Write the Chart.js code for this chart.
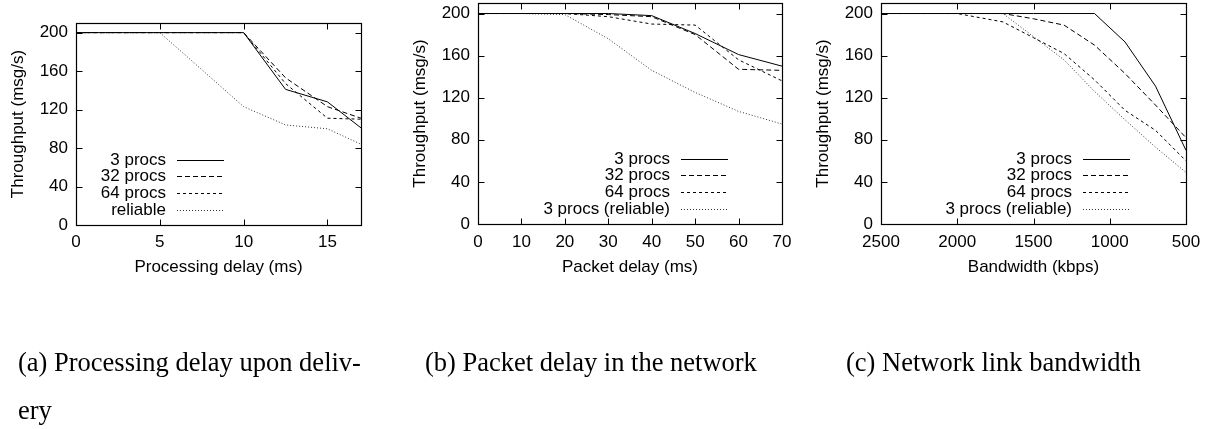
<!DOCTYPE html>
<html><head><meta charset="utf-8">
<script src="https://cdn.jsdelivr.net/npm/chart.js@4.4.1/dist/chart.umd.min.js"></script>
<style>
html,body{margin:0;padding:0;background:#fff;}
body{width:1209px;height:429px;position:relative;overflow:hidden;}
canvas{position:absolute;top:0;}
.cap{position:absolute;font-family:"Liberation Serif","Times New Roman",serif;font-size:26.5px;line-height:48px;color:#000;white-space:nowrap;}
</style></head><body>
<canvas id="ca" width="400" height="429" style="left:0px"></canvas>
<canvas id="cb" width="400" height="429" style="left:400px"></canvas>
<canvas id="cc" width="409" height="429" style="left:800px"></canvas>
<div class="cap" style="left:18px;top:338px">(a) Processing delay upon deliv-<br>ery</div>
<div class="cap" style="left:425px;top:338px">(b) Packet delay in the network</div>
<div class="cap" style="left:846px;top:338px">(c) Network link bandwidth</div>
<script>
// ---- data ----
const yTicks = [0, 40, 80, 120, 160, 200];
const yTitle = 'Throughput (msg/s)';

const aX = [0, 5, 10, 12.5, 15, 17];
const a3 = [200, 200, 200, 141, 128, 101];
const a32 = [200, 200, 200, 153, 123, 111];
const a64 = [200, 200, 200, 147, 111, 110];
const aRel = [200, 200, 123, 104, 100, 84];
const aTicks = [0, 5, 10, 15];
const aLabels = ['3 procs', '32 procs', '64 procs', 'reliable'];

const bX = [0, 10, 20, 30, 40, 50, 60, 70];
const b3 = [200, 200, 200, 200, 198, 181, 161, 150];
const b32 = [200, 200, 200, 199, 197, 180, 147, 146];
const b64 = [200, 200, 200, 197, 190, 189, 156, 136];
const bRel = [200, 200, 199, 176, 146, 125, 107, 95];
const bTicks = [0, 10, 20, 30, 40, 50, 60, 70];
const bLabels = ['3 procs', '32 procs', '64 procs', '3 procs (reliable)'];

const cX = [2500, 2000, 1700, 1500, 1300, 1100, 900, 700, 500];
const c3 = [200, 200, 200, 200, 200, 200, 173, 131, 70];
const c32 = [200, 200, 200, 195, 189, 170, 143, 113, 82];
const c64 = [200, 200, 192, 177, 162, 137, 108, 89, 60];
const cRel = [200, 200, 200, 178, 156, 126, 99, 73, 49];
const cTicks = [2500, 2000, 1500, 1000, 500];
const cLabels = ['3 procs', '32 procs', '64 procs', '3 procs (reliable)'];

// ---- styles ----
const FONT = {family: '"Liberation Sans", Arial, Helvetica, sans-serif', size: 17};
const lineStyles = [
  {borderColor: '#000', borderDash: []},
  {borderColor: '#000', borderDash: [5, 3]},
  {borderColor: '#000', borderDash: [3, 3]},
  {borderColor: '#333', borderDash: [1, 2]}
];

const gpPlugin = {
  id: 'gp',
  afterDatasetsDraw(chart, args, opts) {
    const ctx = chart.ctx, a = chart.chartArea;
    const L = Math.round(a.left) + 0.5, R = Math.round(a.right) + 0.5;
    const T = Math.round(a.top) + 0.5, B = Math.round(a.bottom) + 0.5;
    const xs = chart.scales.x, ys = chart.scales.y, tl = 6;
    ctx.save();
    ctx.strokeStyle = '#000'; ctx.lineWidth = 1; ctx.setLineDash([]);
    ctx.beginPath();
    xs.ticks.forEach(t => {
      const p = Math.round(xs.getPixelForValue(t.value)) + 0.5;
      ctx.moveTo(p, B); ctx.lineTo(p, B - tl);
      ctx.moveTo(p, T); ctx.lineTo(p, T + tl);
    });
    ys.ticks.forEach(t => {
      const p = Math.round(ys.getPixelForValue(t.value)) + 0.5;
      ctx.moveTo(L, p); ctx.lineTo(L + tl, p);
      ctx.moveTo(R, p); ctx.lineTo(R - tl, p);
    });
    ctx.stroke();
    ctx.lineWidth = 1.2;
    ctx.strokeRect(L, T, R - L, B - T);
    ctx.lineWidth = 1;
    ctx.font = FONT.size + 'px ' + FONT.family;
    ctx.textAlign = 'right'; ctx.textBaseline = 'middle'; ctx.fillStyle = '#000';
    chart.data.datasets.forEach((ds, i) => {
      const y = Math.round(a.bottom + opts.rowTop + i * opts.rowGap) + 0.5;
      const x2 = a.left + opts.sampleRight, x1 = x2 - opts.sampleLen;
      ctx.fillText(ds.label, x1 - opts.gap, y);
      ctx.strokeStyle = ds.borderColor; ctx.setLineDash(ds.borderDash || []);
      ctx.beginPath(); ctx.moveTo(x1, y); ctx.lineTo(x2, y); ctx.stroke();
    });
    ctx.restore();
  }
};

function makeChart(id, p) {
  const datasets = p.series.map((ys, i) => Object.assign({
    label: p.labels[i],
    data: p.xs.map((x, j) => ({x: x, y: ys[j]})),
    borderWidth: 1, pointRadius: 0, tension: 0, fill: false
  }, lineStyles[i]));
  return new Chart(document.getElementById(id), {
    type: 'line',
    data: {datasets},
    plugins: [gpPlugin],
    options: {
      responsive: false, animation: false, devicePixelRatio: 1, events: [],
      layout: {autoPadding: false, padding: p.pad},
      plugins: {
        legend: {display: false}, tooltip: {enabled: false},
        gp: {sampleRight: p.legendRight, sampleLen: 47, gap: 11, rowTop: -65.5, rowGap: 16.7}
      },
      scales: {
        x: {
          type: 'linear', min: p.xMin, max: p.xMax, reverse: !!p.reverse,
          grid: {display: false, drawTicks: false}, border: {display: false},
          ticks: {padding: p.xTickPad, font: FONT, color: '#000', maxRotation: 0, autoSkip: false,
                  callback: v => String(v)},
          title: {display: true, text: p.xTitle, font: FONT, color: '#000',
                  padding: {top: 0, bottom: p.xTitlePad}},
          afterBuildTicks: s => { s.ticks = p.xTicks.map(v => ({value: v})); },
          afterFit: s => { s.height = 60; s.paddingLeft = 0; s.paddingRight = 0; }
        },
        y: {
          type: 'linear', min: 0, max: 210,
          grid: {display: false, drawTicks: false}, border: {display: false},
          ticks: {padding: 8, font: FONT, color: '#000', autoSkip: false, callback: v => String(v)},
          title: {display: true, text: yTitle, font: FONT, color: '#000', padding: {top: 1.8, bottom: 0}},
          afterBuildTicks: s => { s.ticks = yTicks.map(v => ({value: v})); },
          afterFit: s => { s.width = 70; s.paddingTop = 0; s.paddingBottom = 0; }
        }
      }
    }
  });
}

makeChart('ca', {
  xs: aX, series: [a3, a32, a64, aRel], labels: aLabels,
  xMin: 0, xMax: 17, xTicks: aTicks, xTitle: 'Processing delay (ms)',
  pad: {left: 6, right: 39, top: 23, bottom: 144},
  xTickPad: 7, xTitlePad: 7.3, legendRight: 148
});
makeChart('cb', {
  xs: bX, series: [b3, b32, b64, bRel], labels: bLabels,
  xMin: 0, xMax: 70, xTicks: bTicks, xTitle: 'Packet delay (ms)',
  pad: {left: 8, right: 18, top: 3, bottom: 145},
  xTickPad: 8, xTitlePad: 6.3, legendRight: 250
});
makeChart('cc', {
  xs: cX, series: [c3, c32, c64, cRel], labels: cLabels,
  xMin: 500, xMax: 2500, reverse: true, xTicks: cTicks, xTitle: 'Bandwidth (kbps)',
  pad: {left: 11, right: 23, top: 3, bottom: 145},
  xTickPad: 8, xTitlePad: 6.3, legendRight: 249
});
</script>
</body></html>
